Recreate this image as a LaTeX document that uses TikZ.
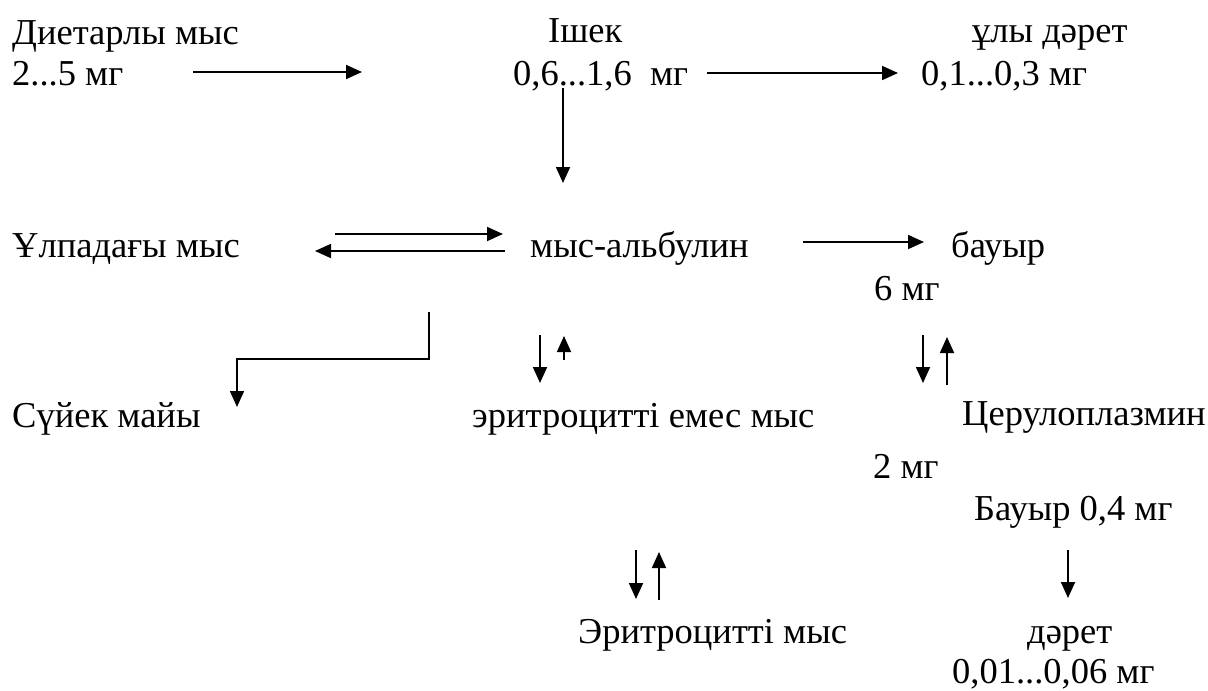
\documentclass[tikz,border=0pt]{standalone}
\usepackage{fontspec}
\setmainfont{Liberation Serif}
\usetikzlibrary{arrows.meta}
\begin{document}
\begin{tikzpicture}[x=1pt,y=-1pt,
  lbl/.style={anchor=base west,inner sep=0pt,font=\fontsize{36.5}{42}\selectfont},
  arr/.style={line width=1.8pt,-{Triangle[length=16pt,width=14pt]}}]
\useasboundingbox (0,0) rectangle (1208,691);
% texts
\node[lbl] (d1) at (12,44) {Диетарлы мыс};
\node[lbl] (d2) at (12,85) {2...5 мг};
\node[lbl] (i1) at (548,42) {Ішек};
\node[lbl] (i2) at (513,85) {0,6...1,6\hspace{0.5em}мг};
\node[lbl] (u1) at (972,42) {ұлы дәрет};
\node[lbl] (u2) at (921,85) {0,1...0,3 мг};
\node[lbl] (t) at (12,257) {Ұлпадағы мыс};
\node[lbl] (m) at (530,257) {мыс-альбулин};
\node[lbl] (b) at (951,257) {бауыр};
\node[lbl] (six) at (874,300) {6 мг};
\node[lbl] (s) at (12,427) {Сүйек майы};
\node[lbl] (e) at (472,427) {эритроцитті емес мыс};
\node[lbl] (c) at (962,425) {Церулоплазмин};
\node[lbl] (two) at (873,478) {2 мг};
\node[lbl] (bl) at (974,520) {Бауыр 0,4 мг};
\node[lbl] (er) at (578,643) {Эритроцитті мыс};
\node[lbl] (de) at (1027,643) {дәрет};
\node[lbl] (dv) at (952,683) {0,01...0,06 мг};
% arrow end points
\coordinate (a1s) at (193,72);  \coordinate (a1e) at (362,72);
\coordinate (a2s) at (707,73);  \coordinate (a2e) at (898,73);
\coordinate (a3s) at (563,88);  \coordinate (a3e) at (563,183);
\coordinate (a4s) at (335,234); \coordinate (a4e) at (503,234);
\coordinate (a5s) at (505,251); \coordinate (a5e) at (315,251);
\coordinate (a6s) at (803,242); \coordinate (a6e) at (924,242);
\coordinate (a7s) at (429,312); \coordinate (a7m) at (429,359); \coordinate (a7e) at (237,407);
\coordinate (a8s) at (540,335); \coordinate (a8e) at (540,383);
\coordinate (a9s) at (564,360); \coordinate (a9e) at (564,336);
\coordinate (a10s) at (923,335); \coordinate (a10e) at (923,383);
\coordinate (a11s) at (947,385); \coordinate (a11e) at (947,337);
\coordinate (a12s) at (636,550); \coordinate (a12e) at (636,599);
\coordinate (a13s) at (659,600); \coordinate (a13e) at (659,552);
\coordinate (a14s) at (1068,550); \coordinate (a14e) at (1068,598);
% arrows
\draw[arr] (a1s) -- (a1e);
\draw[arr] (a2s) -- (a2e);
\draw[arr] (a3s) -- (a3e);
\draw[arr] (a4s) -- (a4e);
\draw[arr] (a5s) -- (a5e);
\draw[arr] (a6s) -- (a6e);
\draw[arr] (a7s) -- (a7m) -| (a7e);
\draw[arr] (a8s) -- (a8e);
\draw[arr] (a9s) -- (a9e);
\draw[arr] (a10s) -- (a10e);
\draw[arr] (a11s) -- (a11e);
\draw[arr] (a12s) -- (a12e);
\draw[arr] (a13s) -- (a13e);
\draw[arr] (a14s) -- (a14e);
\end{tikzpicture}
\end{document}
